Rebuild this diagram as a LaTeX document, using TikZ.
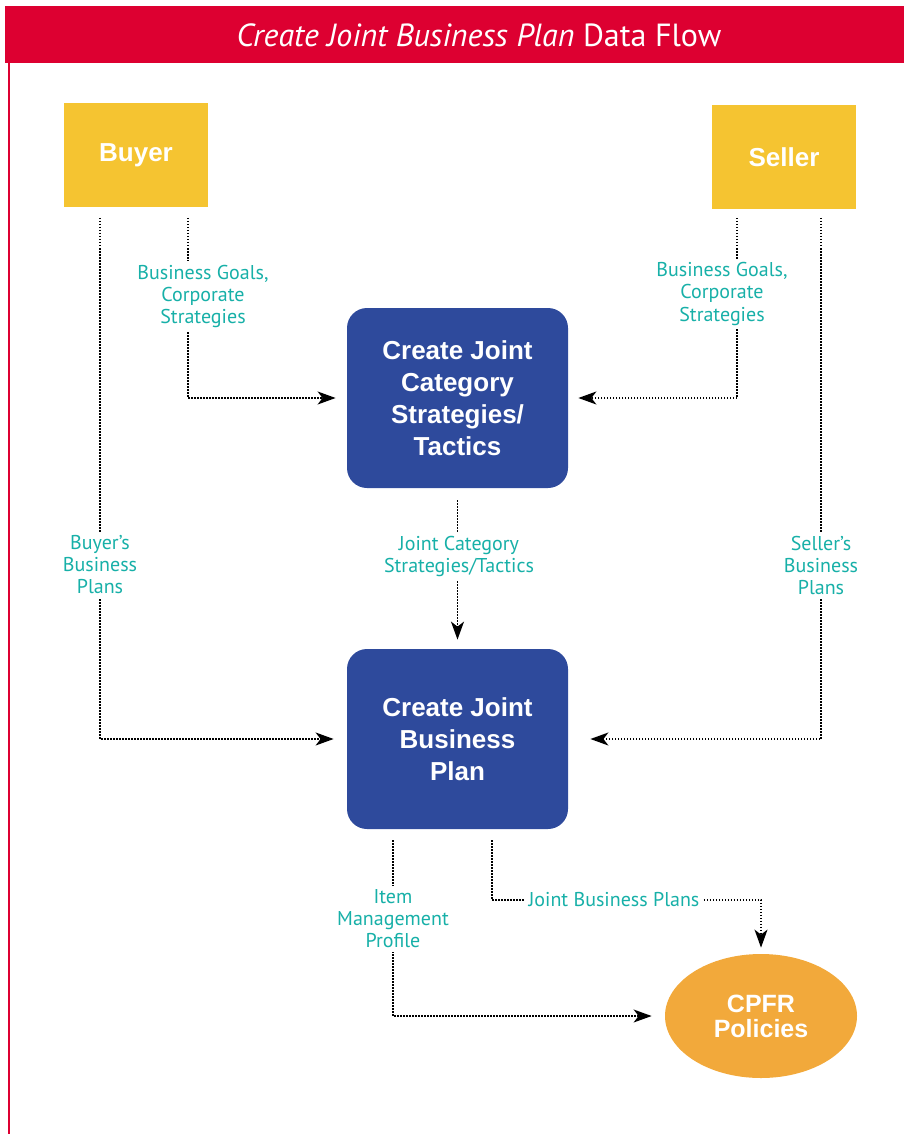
\documentclass[tikz,border=0pt]{standalone}
\usepackage{fontspec}
\setmainfont{PT Sans}
\newfontfamily\boxfont{Liberation Sans}
\usetikzlibrary{arrows.meta,shapes.geometric,backgrounds}

\definecolor{headred}{HTML}{DD0031}
\definecolor{partyyellow}{HTML}{F5C431}
\definecolor{procblue}{HTML}{2E4A9C}
\definecolor{policyorange}{HTML}{F2A93B}
\definecolor{flowteal}{HTML}{17B0A8}

\tikzset{
  party/.style={fill=partyyellow, minimum width=72pt, minimum height=52pt,
    inner sep=0pt, text=white, font=\boxfont\bfseries\fontsize{13}{16}\selectfont},
  process/.style={fill=procblue, rounded corners=10pt, minimum width=110.5pt,
    minimum height=90pt, inner sep=0pt, text=white, align=center,
    font=\boxfont\bfseries\fontsize{13}{16}\selectfont},
  policy/.style={ellipse, fill=policyorange, minimum width=96pt,
    minimum height=62pt, inner sep=0pt, text=white, align=center,
    font=\boxfont\bfseries\fontsize{12.5}{12.5}\selectfont},
  lbl/.style={fill=white, text=flowteal, align=center, inner sep=2pt,
    font=\fontsize{10}{11}\selectfont},
  flow/.style={line width=0.75pt, dash pattern=on 0.75pt off 0.75pt,
    -{Stealth[length=9pt,width=6.5pt,inset=2.5pt]}}
}

\begin{document}
\begin{tikzpicture}[x=0.5pt,y=-0.5pt]
  \useasboundingbox (0,0) rectangle (904,1134);
  % header band and left rule
  \fill[headred] (5,6) rectangle (904,63);
  \fill[headred] (7.5,63) rectangle (9.5,1134);
  \node[text=white, font=\fontsize{16}{18}\selectfont] (title) at (479,35)
    {{\itshape Create Joint Business Plan} Data Flow};

  % parties
  \node[party] (buyer) at (136,155) {Buyer};
  \node[party] (seller) at (784,157) {Seller};

  % processes
  \node[process] (strat) at (457.5,398) {Create Joint\\Category\\Strategies/\\Tactics};
  \node[process] (plan) at (457.5,739) {Create Joint\\Business\\Plan};
  \node[policy] (cpfr) at (761,1016) {CPFR\\Policies};

  % labels
  \node[lbl] (goalsB) at (203,296) {Business Goals,\\Corporate\\Strategies};
  \node[lbl] (goalsS) at (722,294) {Business Goals,\\Corporate\\Strategies};
  \node[lbl] (plansB) at (100,565) {Buyer’s\\Business\\Plans};
  \node[lbl] (plansS) at (821,565) {Seller’s\\Business\\Plans};
  \node[lbl] (jcst) at (459,556) {Joint Category\\Strategies/Tactics};
  \node[lbl] (imp) at (393,919) {Item\\Management\\Profile};
  \node[lbl] (jbp) at (614,900) {Joint Business Plans};

  % connector start points
  \coordinate (bg) at (188,218);
  \coordinate (bp) at (100,218);
  \coordinate (sg) at (737,218);
  \coordinate (sp) at (821,218);
  \coordinate (sc) at (457.5,500);
  \coordinate (pi) at (393,840);
  \coordinate (pj) at (492,840);

  \begin{scope}[on background layer]
    \draw[flow, shorten >=5.5pt] (bg) |- (strat.west);
    \draw[flow, shorten >=5pt] (sg) |- (strat.east);
    \draw[flow, shorten >=6.5pt] (bp) |- (plan.west);
    \draw[flow, shorten >=11pt] (sp) |- (plan.east);
    \draw[flow, shorten >=4.5pt] (sc) -- (plan.north);
    \draw[flow, shorten >=6.5pt] (pi) |- (cpfr.west);
    \draw[flow, shorten >=3pt] (pj) |- (jbp) -| (cpfr.north);
  \end{scope}
\end{tikzpicture}
\end{document}
